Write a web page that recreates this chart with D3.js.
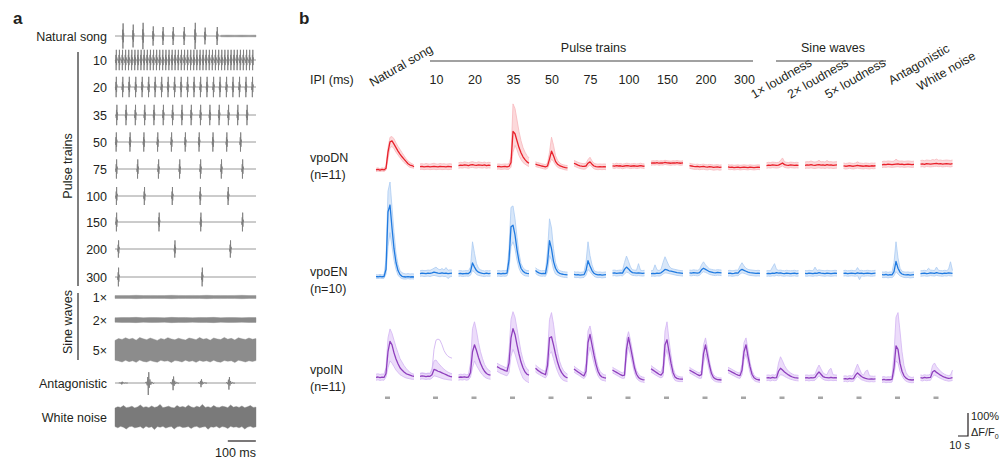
<!DOCTYPE html>
<html><head><meta charset="utf-8">
<script src="https://cdn.jsdelivr.net/npm/d3@7"></script>
<style>body{margin:0;background:#fff}svg{font-family:Arial,"Liberation Sans",sans-serif}</style>
</head><body><svg id="c" width="1005" height="460"></svg>
<script>
// ---------------- DATA ----------------
// panel a: sound stimuli (times in ms, amplitudes in arbitrary units)
const soundLabels = ["Natural song","10","20","35","50","75","100","150","200","300","1×","2×","5×","Antagonistic","White noise"];
const songPulseTimes = [28,64,99,135,170,206,245,284,319,362];
const songPulseAmps = [1.05,0.95,1.1,0.8,0.75,0.75,0.75,1.1,0.7,0.75];
const songSineTimes = [375,400,425,450,475,500];
const songSineEnv = [0.07,0.08,0.07,0.08,0.07,0.08];
const pulses10 = [4,15,26,37,48,59,70,81,92,103,114,125,136,147,158,169,180,191,202,213,224,235,246,257,268,279,290,301,312,323,334,345,356,367,378,389,400,411,422,433,444,455,466,477,488];
const pulses20 = [4,27,50,73,96,119,142,165,188,211,234,257,280,303,326,349,372,395,418,441,464,487];
const pulses35 = [6,39,72,105,138,171,204,237,270,303,336,369,402,435,468];
const pulses50 = [4,53,102,151,200,249,298,347,396,445];
const pulses75 = [5,80,154,229,303,377,452];
const pulses100 = [5,104,203,302,401];
const pulses150 = [5,156,304,452];
const pulses200 = [12,212,409];
const pulses300 = [12,309];
const trainAmps = [0.85,0.85,0.85,0.8,0.8,0.75,0.78,0.72,0.78];
const sineTimes = [0,25,50,75,100,125,150,175,200,225,250,275,300,325,350,375,400,425,450,475,500];
const sine1Env = [0.12,0.13,0.12,0.14,0.12,0.13,0.12,0.12,0.14,0.13,0.12,0.13,0.12,0.14,0.12,0.13,0.12,0.13,0.14,0.12,0.13];
const sine2Env = [0.19,0.21,0.2,0.22,0.19,0.21,0.2,0.19,0.22,0.2,0.21,0.19,0.21,0.2,0.22,0.19,0.21,0.2,0.19,0.21,0.2];
const sine5Times = [0,12.5,25,37.5,50,62.5,75,87.5,100,112.5,125,137.5,150,162.5,175,187.5,200,212.5,225,237.5,250,262.5,275,287.5,300,312.5,325,337.5,350,362.5,375,387.5,400,412.5,425,437.5,450,462.5,475,487.5,500];
const sine5Env = [0.8,0.95,0.88,1.02,0.9,0.97,0.82,1.04,0.93,0.86,1.0,0.9,0.8,0.96,0.88,1.03,0.92,0.85,0.98,0.9,0.83,1.0,0.94,0.86,1.04,0.9,0.96,0.82,1.0,0.92,0.87,1.05,0.9,0.97,0.84,1.02,0.93,0.88,1.0,0.9,0.95];
const sine5EnvLo = [0.85,0.92,1.0,0.86,0.97,0.9,1.03,0.84,0.95,1.0,0.88,0.96,1.02,0.86,0.94,0.9,1.04,0.88,0.92,1.0,0.85,0.96,0.9,1.03,0.87,0.95,0.9,1.0,0.86,0.97,1.02,0.88,0.94,0.9,1.04,0.86,0.92,1.0,0.9,0.96,0.88];
const antagTimes = [24,118,206,305,404];
const antagAmps = [0.12,1.0,0.6,0.35,0.55];
const noiseTimes = [0,10,20,30,40,50,60,70,80,90,100,110,120,130,140,150,160,170,180,190,200,210,220,230,240,250,260,270,280,290,300,310,320,330,340,350,360,370,380,390,400,410,420,430,440,450,460,470,480,490,500];
const noiseHi = [0.75,0.85,0.8,0.95,0.78,0.82,0.9,0.76,0.84,1.0,0.8,0.86,0.78,0.92,0.8,0.85,1.05,0.78,0.83,0.9,0.8,0.76,0.95,0.82,0.88,0.8,0.98,0.84,0.78,0.9,0.82,1.05,0.8,0.86,0.78,0.95,0.82,0.8,0.9,0.85,0.78,1.0,0.82,0.88,0.8,0.92,0.78,0.85,0.95,0.8,0.82];
const noiseLo = [0.8,0.9,0.78,0.85,1.0,0.82,0.78,0.9,0.85,0.8,0.95,0.78,0.88,0.82,1.05,0.8,0.85,0.78,0.92,0.84,0.8,1.0,0.82,0.78,0.88,0.85,0.8,0.95,0.82,0.78,0.9,0.84,0.8,1.02,0.82,0.86,0.78,0.92,0.8,0.84,0.95,0.78,0.86,0.82,0.9,0.8,1.0,0.84,0.78,0.88,0.82];

// panel b: calcium responses (% dF/F0), sampled at these times (s) re stimulus onset
const columns = ["Natural song","10","20","35","50","75","100","150","200","300","1× loudness","2× loudness","5× loudness","Antagonistic","White noise"];
const ipiLabels = ["10","20","35","50","75","100","150","200","300"];
const natTimes = [-9,-7,-5,-3,-1,1,3,5,7,9,11,13,15,17,19,21,23,25,27,29];
const stdTimes = [-13,-11,-9,-7,-5,-3,-1,1,3,5,7,9,11,13,15,17,19];
const stimWindow = [0,5];

const dnMean = [
[-17,-15,-18,-15,-17,-10,60,105,109,95,80,65,52,40,30,20,10,4,2,-3],
[-3,-2,-4,-3,-2,-4,-3,-2,-3,-4,-2,-3,-3,-4,-2,-3,-4],
[2,4,3,5,4,2,5,6,4,3,5,4,3,5,2,4,3],
[-3,-2,-4,-3,-2,-4,-2,15,150,140,110,80,58,40,28,18,12],
[8,5,3,0,-2,-4,0,30,65,45,20,8,2,-2,-5,-7,-8],
[12,8,4,1,-1,-2,0,12,18,8,0,-3,-4,-3,-4,-3,-4],
[1,-1,2,0,1,-2,0,2,1,-1,0,1,-1,0,2,0,-1],
[12,14,13,15,12,14,13,16,14,13,12,14,13,15,13,12,14],
[2,0,-2,-3,-2,-4,-3,-2,-4,-5,-3,-4,-6,-5,-4,-6,-5],
[-4,-6,-5,-7,-6,-5,-7,-6,-5,-6,-7,-5,-6,-7,-6,-5,-6],
[2,4,3,5,4,3,4,8,13,6,4,3,5,4,3,4,3],
[3,5,4,6,4,3,5,6,4,5,3,6,4,5,3,4,5],
[1,-1,0,2,0,-1,1,3,1,0,-1,1,0,-1,1,0,1],
[5,7,6,8,7,6,7,8,9,7,8,6,7,8,7,6,7],
[8,9,7,10,9,8,9,10,11,9,10,8,9,10,9,8,10]];
const dnHi = [
[-10,-8,-12,-8,-10,0,80,125,128,118,100,85,72,58,45,32,22,15,10,5],
[9,10,8,11,9,8,10,12,9,8,11,9,10,8,9,10,8],
[14,16,15,18,16,14,17,19,16,15,18,16,15,17,14,16,15],
[8,9,7,8,9,8,10,40,270,250,200,150,110,80,60,45,35],
[18,15,13,10,8,6,12,60,125,90,45,25,14,8,5,3,2],
[24,20,16,13,11,10,12,28,38,22,12,9,8,9,8,9,8],
[11,9,12,10,11,8,10,12,11,9,10,11,9,10,12,10,9],
[21,23,22,24,21,23,22,25,23,22,21,23,22,24,22,21,23],
[12,10,8,7,8,6,7,8,6,5,7,6,4,5,6,4,5],
[6,4,5,3,4,5,3,4,5,4,3,5,4,3,4,5,4],
[14,16,15,17,16,15,16,24,35,18,16,15,17,16,15,16,15],
[17,19,18,22,18,17,19,25,18,19,17,24,18,19,17,18,19],
[13,11,12,14,12,11,13,18,13,12,11,13,12,11,13,12,13],
[19,21,20,22,21,20,21,30,23,21,22,20,21,22,21,20,21],
[24,25,23,26,25,24,28,26,30,25,26,24,25,26,25,24,26]];
const dnLo = [
[-24,-22,-24,-22,-24,-18,30,80,85,75,60,48,36,25,15,8,0,-6,-8,-10],
[-15,-14,-16,-15,-14,-16,-15,-14,-16,-15,-14,-16,-15,-14,-16,-15,-14],
[-10,-8,-9,-7,-8,-10,-7,-6,-8,-9,-7,-8,-9,-7,-10,-8,-9],
[-14,-13,-15,-14,-13,-15,-14,-5,60,90,70,45,28,15,8,2,-2],
[-2,-5,-7,-10,-12,-14,-10,10,30,20,5,-5,-10,-12,-15,-17,-18],
[0,-4,-8,-11,-13,-14,-12,-2,5,-4,-12,-15,-16,-15,-16,-15,-16],
[-9,-11,-8,-10,-9,-12,-10,-8,-9,-11,-10,-9,-11,-10,-8,-10,-11],
[3,5,4,6,3,5,4,7,5,4,3,5,4,6,4,3,5],
[-10,-12,-14,-15,-14,-16,-15,-14,-16,-17,-15,-16,-18,-17,-16,-18,-17],
[-14,-16,-15,-17,-16,-15,-17,-16,-15,-16,-17,-15,-16,-17,-16,-15,-16],
[-10,-8,-9,-7,-8,-9,-8,-4,0,-6,-8,-9,-7,-8,-9,-8,-9],
[-11,-9,-10,-8,-10,-11,-9,-8,-10,-9,-11,-8,-10,-9,-11,-10,-9],
[-11,-13,-12,-10,-12,-13,-11,-9,-11,-12,-13,-11,-12,-13,-11,-12,-11],
[-7,-5,-6,-4,-5,-6,-5,-4,-3,-5,-4,-6,-5,-4,-5,-6,-5],
[-4,-3,-5,-2,-3,-4,-3,-2,-1,-3,-2,-4,-3,-2,-3,-4,-2]];

const enMean = [
[-11,-12,-10,-12,-11,20,270,300,200,110,50,15,-2,-10,-12,-13,-11,-13,-12,-13],
[2,4,3,2,4,3,5,8,6,4,3,5,3,4,2,3,4],
[2,3,1,2,3,2,10,48,30,15,8,5,3,2,4,2,3],
[2,3,1,3,2,4,60,205,212,170,105,55,25,12,5,3,2],
[15,8,4,2,3,2,50,145,110,55,25,10,3,0,-2,-3,-4],
[-2,-4,-3,-5,-4,-3,15,58,35,15,3,-2,-4,-3,-5,-4,-3],
[4,5,3,4,5,4,20,30,22,12,6,5,4,5,4,3,4],
[2,3,2,4,3,5,12,20,18,14,12,10,8,6,5,4,3],
[5,4,6,5,4,6,18,25,20,15,10,8,6,5,7,6,5],
[3,4,2,3,5,4,15,20,16,12,8,6,5,4,3,4,3],
[2,3,2,4,3,6,4,5,3,2,4,3,2,3,4,2,3],
[3,2,4,3,2,4,3,6,4,3,2,4,3,2,3,4,3],
[3,4,2,3,4,3,2,5,3,4,2,3,4,3,2,3,4],
[-3,-4,-2,-5,-3,-4,10,55,25,8,0,-3,-4,-3,-5,-4,-3],
[2,3,4,2,3,5,4,3,6,4,3,2,4,3,5,4,3]];
const enHi = [
[-3,-4,-2,-4,-3,60,360,400,290,180,90,40,15,5,2,0,2,0,1,0],
[14,16,15,15,17,16,20,25,30,22,18,24,17,28,16,18,17],
[14,15,13,14,15,14,30,140,90,45,25,18,15,13,15,14,15],
[14,15,13,15,14,16,110,290,296,240,160,90,45,28,18,15,14],
[27,20,16,14,15,14,100,240,200,110,50,25,15,12,10,9,8],
[10,8,9,7,8,9,50,140,80,40,15,10,8,9,7,8,9],
[16,17,15,16,17,16,50,78,55,30,18,17,16,45,16,15,16],
[14,15,40,18,15,20,50,75,55,35,25,22,20,18,16,15,14],
[17,16,18,17,16,20,40,53,40,30,22,20,18,17,19,18,17],
[15,16,14,15,17,16,35,49,35,25,20,18,17,16,15,16,15],
[14,15,14,30,45,20,16,17,15,14,16,15,14,15,16,14,15],
[15,14,16,15,14,30,15,18,16,15,14,16,15,14,15,16,15],
[15,16,14,15,16,15,14,28,15,16,14,15,16,15,14,15,16],
[9,8,10,7,9,8,50,140,70,25,12,9,8,9,7,8,9],
[14,15,16,14,25,17,16,15,30,16,15,14,16,15,20,53,15]];
const enLo = [
[-19,-20,-18,-20,-19,0,120,180,120,60,20,-5,-15,-20,-22,-22,-20,-22,-21,-22],
[-10,-9,-11,-10,-9,-11,-8,-6,-8,-10,-12,-9,-11,-10,-20,-12,-10],
[-10,-9,-11,-10,-9,-10,-5,15,8,-2,-6,-8,-10,-11,-9,-10,-9],
[-10,-9,-11,-9,-10,-8,20,120,140,110,60,25,5,-3,-8,-9,-10],
[3,-4,-8,-10,-9,-10,10,80,60,20,0,-5,-9,-12,-14,-15,-16],
[-14,-16,-15,-17,-16,-15,-5,20,10,0,-10,-14,-16,-15,-17,-16,-15],
[-8,-7,-9,-8,-7,-8,0,8,5,-2,-6,-7,-8,-7,-8,-9,-8],
[-10,-9,-10,-8,-9,-7,0,5,4,2,0,-2,-4,-6,-7,-8,-9],
[-7,-8,-6,-7,-8,-6,4,10,7,3,-2,-4,-6,-7,-5,-6,-7],
[-9,-8,-10,-9,-7,-8,0,5,3,0,-4,-6,-7,-8,-9,-8,-9],
[-10,-9,-10,-8,-9,-6,-8,-7,-9,-10,-8,-9,-10,-9,-8,-10,-9],
[-9,-10,-8,-9,-10,-8,-9,-6,-8,-9,-10,-8,-9,-10,-9,-8,-9],
[-9,-8,-10,-9,-8,-9,-10,-7,-25,-8,-10,-9,-8,-9,-10,-9,-8],
[-15,-16,-14,-17,-15,-16,-8,10,0,-8,-12,-15,-16,-15,-17,-16,-15],
[-10,-9,-8,-10,-9,-7,-8,-9,-6,-8,-9,-10,-8,-9,-7,-8,-9]];

const inMean = [
[-2,0,-3,-1,-2,15,110,155,140,105,78,58,40,30,22,15,11,8,5,3],
[3,5,4,2,4,3,10,33,30,25,22,18,14,10,6,3,1],
[-2,0,-1,1,-2,0,20,110,140,115,85,60,40,25,15,10,8],
[45,40,35,32,28,25,60,170,210,185,140,100,65,40,22,12,8],
[38,30,24,18,14,10,50,170,175,140,100,65,38,20,8,0,-4],
[35,28,22,16,10,5,25,150,185,140,95,55,25,8,0,-3,-5],
[30,25,20,15,10,6,8,120,172,130,85,40,12,-2,-8,-11,-13],
[36,30,24,18,12,8,20,140,162,110,60,20,0,-6,-8,-9,-9],
[30,25,20,15,10,6,10,100,140,95,50,15,-2,-8,-11,-12,-13],
[30,26,21,17,12,8,6,30,110,140,90,45,12,-3,-9,-12,-13],
[-4,-3,-5,-2,-4,-3,25,38,30,22,15,9,4,0,-3,-4,-5],
[-4,-3,-5,-3,-4,-2,12,22,12,2,-2,-3,-4,-2,-4,-3,-4],
[-8,-7,-9,-6,-8,-7,8,18,10,2,-3,-6,-8,-9,-8,-9,-8],
[-12,-10,-13,-11,-12,-10,40,135,120,60,25,5,-5,-10,-12,-13,-12],
[-3,-5,-2,-4,-3,-2,22,28,20,14,8,3,-1,-4,-6,-5,-3]];
const inHi = [
[12,14,11,13,12,40,170,209,190,160,130,105,80,65,50,38,28,20,15,12],
[16,18,17,15,17,16,35,70,74,62,52,42,34,27,21,17,14],
[10,12,11,13,10,12,60,210,240,200,150,110,80,55,40,30,25],
[60,55,50,47,42,40,110,250,284,260,210,160,110,75,50,35,28],
[52,45,38,32,28,24,100,250,280,230,160,110,70,45,28,18,12],
[48,40,34,28,22,17,60,200,222,180,125,80,45,25,15,10,8],
[42,37,32,27,22,18,25,165,197,160,110,60,28,12,4,0,-2],
[50,43,37,31,25,20,50,200,240,160,95,40,15,5,2,0,0],
[42,36,31,26,21,17,30,140,170,125,70,30,10,2,-2,-4,-4],
[42,38,33,28,23,19,17,55,150,170,120,65,28,8,0,-4,-5],
[8,9,7,10,8,12,60,88,70,50,35,25,18,13,9,8,7],
[8,9,7,9,8,12,35,52,35,18,12,10,30,38,10,9,8],
[4,5,3,6,4,10,35,56,35,15,8,25,30,5,4,3,4],
[0,2,-1,1,0,5,100,260,280,200,110,50,20,5,0,-2,0],
[9,7,10,8,9,12,50,61,45,35,25,18,12,8,6,8,30]];
const inLo = [
[-14,-12,-15,-13,-14,0,40,70,60,45,30,20,10,5,0,-4,-6,-8,-10,-10],
[-10,-8,-9,-11,-9,-10,-5,5,3,0,-3,-6,-9,-10,-12,-13,-14],
[-14,-12,-13,-11,-14,-12,0,40,70,50,35,20,10,0,-5,-8,-10],
[25,20,15,12,8,5,20,90,120,100,70,40,15,-5,-15,-20,-25],
[22,15,10,5,0,-4,10,100,110,80,50,25,5,-8,-15,-18,-20],
[22,15,10,4,-2,-7,5,90,130,95,60,28,5,-8,-14,-16,-18],
[18,13,8,3,-2,-6,-5,80,130,95,55,18,-5,-15,-20,-22,-24],
[22,16,10,5,0,-4,2,85,120,70,30,0,-15,-18,-20,-20,-20],
[18,13,8,3,-2,-6,-5,60,100,65,25,-5,-15,-20,-22,-23,-24],
[18,14,9,5,0,-4,-6,10,75,100,60,20,-5,-15,-20,-22,-24],
[-16,-15,-17,-14,-16,-15,0,10,8,3,-2,-6,-10,-12,-15,-16,-17],
[-16,-15,-17,-15,-16,-14,-5,5,-3,-10,-14,-15,-16,-14,-16,-15,-16],
[-20,-19,-21,-18,-20,-19,-6,2,-5,-12,-15,-18,-20,-21,-20,-21,-20],
[-24,-22,-25,-23,-24,-22,10,70,60,25,5,-10,-18,-22,-24,-25,-24],
[-15,-17,-14,-16,-15,-14,2,8,4,-2,-6,-10,-14,-16,-18,-17,-15]];
// one outlier vpoIN trace in the 10 ms IPI condition
const inOutlier10 = [14,16,15,13,15,14,30,120,160,165,160,140,115,100,90,85,82];

// ---------------- DRAWING ----------------
const svg = d3.select("#c");
const ink = "#231f20", wave = "#7d7d7d", fs = 12.5;

svg.append("text").attr("x",13).attr("y",24).attr("font-size",17).attr("font-weight","bold").attr("fill",ink).text("a");
svg.append("text").attr("x",299).attr("y",24).attr("font-size",17).attr("font-weight","bold").attr("fill",ink).text("b");

// ---- panel a ----
const ax = d3.scaleLinear().domain([0,500]).range([115,256]);
const aRowY = [36,60,87,115,142,169,196,222,249,277,297,320,350,383,417];
const ampPx = 12;
const aG = svg.append("g");
const pulseGlyph = [[-0.8,0],[-0.45,-0.3],[-0.2,0.5],[0,-1],[0.2,1],[0.45,-0.5],[0.7,0.25],[1,0]];
const antagGlyph = [[-3,0],[-2,0.1],[-1,-0.2],[-0.5,0.5],[0,-1],[0.5,0.9],[1,-0.4],[1.6,0.3],[2.5,-0.15],[3.5,0.1],[5,-0.05],[6,0]];
const lineGen = d3.line();

soundLabels.forEach((lab,i)=>{
  aG.append("text").attr("x",107).attr("y",aRowY[i]+4.5).attr("text-anchor","end")
    .attr("font-size",fs).attr("fill",ink).text(lab);
});

function rowScale(cy){ return d3.scaleLinear().domain([-1,1]).range([cy+ampPx, cy-ampPx]); }
function baseline(cy){
  aG.append("path").attr("d", lineGen([[ax(0),cy],[ax(500),cy]])).attr("stroke",wave).attr("stroke-width",0.8).attr("fill","none");
}
function drawPulses(times, amps, cy, glyph, sw){
  const ys = rowScale(cy);
  const d = times.map((t,k)=>lineGen(glyph.map(([dx,dy])=>[ax(t)+dx, ys(dy*amps[k])]))).join("");
  aG.append("path").attr("d",d).attr("stroke",wave).attr("stroke-width",sw).attr("fill","none").attr("stroke-linejoin","round");
}
function drawBand(times, up, dn, cy, col){
  const ys = rowScale(cy);
  const area = d3.area().x(d=>ax(d[0])).y0(d=>ys(-d[2])).y1(d=>ys(d[1]));
  aG.append("path").attr("d", area(times.map((t,k)=>[t,up[k],dn[k]]))).attr("fill",col).attr("stroke",col).attr("stroke-width",0.4);
}

baseline(aRowY[0]);
drawPulses(songPulseTimes, songPulseAmps, aRowY[0], pulseGlyph, 0.9);
drawBand(songSineTimes, songSineEnv, songSineEnv, aRowY[0], "#9a9a9a");
const trains = [pulses10,pulses20,pulses35,pulses50,pulses75,pulses100,pulses150,pulses200,pulses300];
trains.forEach((p,k)=>{
  const cy = aRowY[k+1];
  baseline(cy);
  drawPulses(p, p.map(()=>trainAmps[k]), cy, pulseGlyph, 0.85);
});
drawBand(sineTimes, sine1Env, sine1Env, aRowY[10], "#8f8f8f");
drawBand(sineTimes, sine2Env, sine2Env, aRowY[11], "#8a8a8a");
drawBand(sine5Times, sine5Env, sine5EnvLo, aRowY[12], "#8c8c8c");
baseline(aRowY[13]);
drawPulses(antagTimes, antagAmps, aRowY[13], antagGlyph, 0.9);
drawBand(noiseTimes, noiseHi, noiseLo, aRowY[14], "#7a7a7a");

aG.append("line").attr("x1",78).attr("x2",78).attr("y1",52).attr("y2",286).attr("stroke","#555").attr("stroke-width",1.5);
aG.append("line").attr("x1",78).attr("x2",78).attr("y1",293).attr("y2",360).attr("stroke","#555").attr("stroke-width",1.5);
aG.append("text").attr("transform","translate(72,166) rotate(-90)").attr("text-anchor","middle").attr("font-size",fs).attr("fill",ink).text("Pulse trains");
aG.append("text").attr("transform","translate(72,322) rotate(-90)").attr("text-anchor","middle").attr("font-size",fs).attr("fill",ink).text("Sine waves");
aG.append("line").attr("x1",ax(400)).attr("x2",ax(500)).attr("y1",441).attr("y2",441).attr("stroke",ink).attr("stroke-width",1.2);
aG.append("text").attr("x",ax(500)).attr("y",457).attr("text-anchor","end").attr("font-size",fs).attr("fill",ink).text("100 ms");

// ---- panel b ----
const colT0 = d3.scaleLinear().domain([1,14]).range([433,933.5]);
const t0x = i => i===0 ? colT0(1)-48 : colT0(i);
const ts = d3.scaleLinear().domain([0,10]).range([0,10]);
const bG = svg.append("g");

bG.append("text").attr("x",310).attr("y",84).attr("font-size",fs).attr("fill",ink).text("IPI (ms)");
ipiLabels.forEach((l,k)=>{
  bG.append("text").attr("x",t0x(k+1)+ts(3.5)).attr("y",84).attr("text-anchor","middle").attr("font-size",fs).attr("fill",ink).text(l);
});
const rotCols = [0,10,11,12,13,14];
const rotOff = [[-16,87],[-29,99],[-31,99],[-32,99],[-7,85],[-17,91]];
rotCols.forEach((c,k)=>{
  const cx = t0x(c)+ts(3.5)+rotOff[k][0];
  bG.append("text").attr("transform",`translate(${cx},${rotOff[k][1]}) rotate(-30)`)
    .attr("font-size",fs).attr("fill",ink).text(columns[c]);
});
const ptL = t0x(1)-3, ptR = t0x(9)+12, swL = t0x(10)-3.5, swR = t0x(12)+29.5;
bG.append("line").attr("x1",ptL).attr("x2",ptR).attr("y1",61).attr("y2",61).attr("stroke","#444").attr("stroke-width",1.1);
bG.append("line").attr("x1",swL).attr("x2",swR).attr("y1",61).attr("y2",61).attr("stroke","#444").attr("stroke-width",1.1);
bG.append("text").attr("x",(ptL+ptR)/2+2).attr("y",52).attr("text-anchor","middle").attr("font-size",fs).attr("fill",ink).text("Pulse trains");
bG.append("text").attr("x",(swL+swR)/2+2).attr("y",52).attr("text-anchor","middle").attr("font-size",fs).attr("fill",ink).text("Sine waves");

const rows = [
 {name:"vpoDN", n:"(n=11)", y0:166, ly:162, mean:dnMean, hi:dnHi, lo:dnLo, c:"#e8212b", f:"#fcd9db", fl:"#f8b7bc"},
 {name:"vpoEN", n:"(n=10)", y0:274, ly:276, mean:enMean, hi:enHi, lo:enLo, c:"#1f7ae0", f:"#d8e7f9", fl:"#acccf2"},
 {name:"vpoIN", n:"(n=11)", y0:377, ly:374, mean:inMean, hi:inHi, lo:inLo, c:"#8e3fbd", f:"#ecdcfa", fl:"#d3b5f2"}
];
rows.forEach((r,ri)=>{
  bG.append("text").attr("x",310).attr("y",r.ly).attr("font-size",fs).attr("fill",ink).text(r.name);
  bG.append("text").attr("x",310).attr("y",r.ly+17).attr("font-size",fs).attr("fill",ink).text(r.n);
  const ys = d3.scaleLinear().domain([0,100]).range([r.y0, r.y0-23]);
  columns.forEach((c,i)=>{
    const times = i===0 ? natTimes : stdTimes;
    const x0 = t0x(i);
    const pts = times.map((t,k)=>({x:x0+ts(t), m:r.mean[i][k], h:r.hi[i][k], l:r.lo[i][k]}));
    const area = d3.area().x(d=>d.x).y0(d=>ys(d.l)).y1(d=>ys(d.h));
    bG.append("path").attr("d",area(pts)).attr("fill",r.f);
    const lh = d3.line().x(d=>d.x).y(d=>ys(d.h));
    const ll = d3.line().x(d=>d.x).y(d=>ys(d.l));
    bG.append("path").attr("d",lh(pts)).attr("stroke",r.fl).attr("stroke-width",0.8).attr("fill","none");
    bG.append("path").attr("d",ll(pts)).attr("stroke",r.fl).attr("stroke-width",0.8).attr("fill","none");
    if (ri===2 && i===1) {
      const lo = d3.line().x((t)=>x0+ts(t)).y((t,k)=>ys(inOutlier10[k]));
      bG.append("path").attr("d",lo(times)).attr("stroke",r.fl).attr("stroke-width",0.9).attr("fill","none");
    }
    const lm = d3.line().x(d=>d.x).y(d=>ys(d.m));
    bG.append("path").attr("d",lm(pts)).attr("stroke",r.c).attr("stroke-width",1.3).attr("fill","none").attr("stroke-linejoin","round");
  });
});
columns.forEach((c,i)=>{
  bG.append("rect").attr("x",t0x(i)+ts(stimWindow[0])).attr("y",396.5).attr("width",ts(stimWindow[1]-stimWindow[0])).attr("height",2.5).attr("fill","#a6a6a6");
});
const sbX = 958, sbY = 436;
const ysb = d3.scaleLinear().domain([0,100]).range([0,23]);
bG.append("path").attr("d", lineGen([[sbX,sbY],[sbX+ts(10),sbY],[sbX+ts(10),sbY-ysb(100)]])).attr("stroke",ink).attr("stroke-width",1.2).attr("fill","none");
bG.append("text").attr("x",971).attr("y",420).attr("font-size",11).attr("fill",ink).text("100%");
const dft = bG.append("text").attr("x",971).attr("y",436).attr("font-size",11).attr("fill",ink);
dft.append("tspan").text("ΔF/F");
dft.append("tspan").attr("font-size",7).attr("dy",3).text("0");
bG.append("text").attr("x",970).attr("y",449).attr("text-anchor","end").attr("font-size",11).attr("fill",ink).text("10 s");
</script></body></html>
